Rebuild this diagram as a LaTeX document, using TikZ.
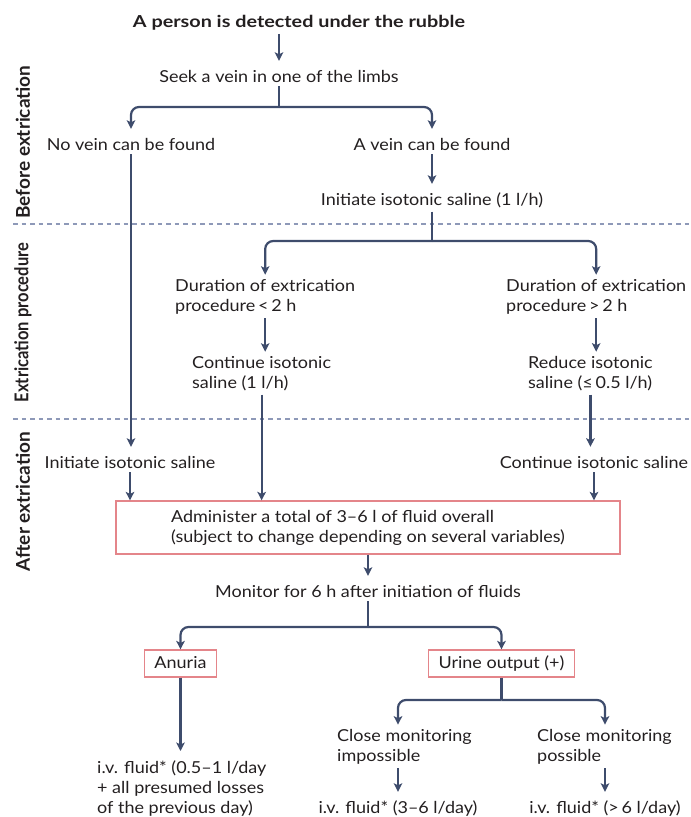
\documentclass[tikz,border=0pt]{standalone}
\usepackage{fontspec}
\setmainfont{Lato}[FakeStretch=1.09]
\newfontfamily\titlefont{Lato}[FakeStretch=1.2]
\newfontfamily\phasefont{Lato}
\usepackage{tikz}
\usetikzlibrary{arrows.meta, positioning}
\definecolor{arrowblue}{HTML}{3E4C6C}
\definecolor{dashgray}{HTML}{8E99B8}
\definecolor{boxred}{HTML}{E4858A}
\definecolor{inkblack}{HTML}{231F20}

\begin{document}
\begin{tikzpicture}[x=1pt, y=-1pt,
    txt/.style={text=inkblack, font=\fontsize{16.5}{20}\selectfont, inner xsep=0pt, inner ysep=4pt, align=left, execute at begin node={\rule{0pt}{17pt}}},
    redbox/.style={draw=boxred, line width=1.2pt, text=inkblack, font=\fontsize{16.5}{20}\selectfont, inner xsep=10pt, inner ysep=0pt, align=left},
    phase/.style={text=inkblack, font=\phasefont\fontsize{19}{22}\selectfont\bfseries, rotate=90},
    phaseline/.style={dashgray, line width=1.5pt, dash pattern=on 4.5pt off 4pt},
    lnk/.style={draw=arrowblue, line width=2.2pt, rounded corners=8pt},
    arr/.style={lnk, -{Stealth[length=8.5pt, width=8.5pt, inset=2pt]}}
]
    \useasboundingbox (0,0) rectangle (691,817);
    % Phase labels and borders
    \node[phase] (before) at (23,142) {Before extrication};
    \node[phase] (during) at (23,322.5) {\scalebox{0.87}[1]{Extrication procedure}};
    \node[phase] (after) at (23,501.5) {After extrication};
    \draw[phaseline] (13,224) -- (691,224);
    \draw[phaseline] (13,419) -- (691,419);

    % Before extrication
    \node[txt, font=\titlefont\fontsize{16.5}{20}\selectfont\bfseries, anchor=base] (detect) at (299,27) {A person is detected under the rubble};
    \node[txt, anchor=base] (seek) at (279,82) {Seek a vein in one of the limbs};
    \node[txt, anchor=base] (novein) at (131,150) {No vein can be found};
    \node[txt, anchor=base] (vein) at (432,150) {A vein can be found};
    \node[txt, anchor=base] (salinestart) at (432,205) {Initiate isotonic saline (1 l/h)};
    \coordinate (seekfork) at (seek.south |- 0,107);
    \draw[arr] (detect.south -| seek.north) -- (seek.north);
    \draw[lnk] (seek.south) -- (seekfork);
    \draw[arr] (seekfork) -| (novein.north);
    \draw[arr] (seekfork) -| (vein.north);
    \draw[arr] (vein.south) -- (salinestart.north);

    % Extrication procedure
    \node[txt, anchor=base west] (durless) at (175,311) {Duration of extrication\\procedure\,<\,2 h};
    \node[txt, anchor=base west] (durmore) at (506,311) {Duration of extrication\\procedure\,>\,2 h};
    \node[txt, anchor=base west] (contsal) at (192,388) {Continue isotonic\\saline (1 l/h)};
    \node[txt, anchor=base west] (redsal) at (528,388) {Reduce isotonic\\saline (≤\,0.5 l/h)};
    \coordinate (salinefork) at (salinestart.south |- 0,241);
    \draw[lnk] (salinestart.south) -- (salinefork);
    \draw[arr] (salinefork) -| (durless.north);
    \draw[arr] (salinefork) -| (durmore.north);
    \draw[arr] (durless.south) -- (durless.south |- contsal.north);
    \draw[arr] (durmore.south) -- (durmore.south |- redsal.north);

    % After extrication
    \node[txt, anchor=base] (salinelate) at (130,468) {Initiate isotonic saline};
    \node[txt, anchor=base] (salinekeep) at (594,468) {Continue isotonic saline};
    \node[redbox, minimum width=504pt, minimum height=53pt] (admin) at (368,527.5) {Administer a total of 3–6 l of fluid overall\\(subject to change depending on several variables)};
    \node[txt, anchor=base] (monitor) at (368,597) {Monitor for 6 h after initiation of fluids};
    \draw[arr] (novein.south) -- (novein.south |- salinelate.north);
    \draw[arr] (salinelate.south) -- (salinelate.south |- admin.north);
    \draw[arr] (contsal.south) -- (contsal.south |- admin.north);
    \draw[arr] (redsal.south) -- (redsal.south |- salinekeep.north);
    \draw[arr] (salinekeep.south) -- (salinekeep.south |- admin.north);
    \draw[arr] (admin.south) -- (monitor.north);

    % Monitoring outcome
    \node[redbox, minimum height=27pt, text height=12pt, text depth=3pt] (anuria) at (180.5,663.5) {Anuria};
    \node[redbox, minimum height=27pt, text height=12pt, text depth=3pt] (urine) at (501.5,663.5) {Urine output (+)};
    \node[txt, anchor=base west] (fluidlow) at (97,813) {i.v. fluid* (0.5–1 l/day\\+ all presumed losses\\of the previous day)};
    \node[txt, anchor=base west] (closeno) at (337,761) {Close monitoring\\impossible};
    \node[txt, anchor=base west] (closeyes) at (537,761) {Close monitoring\\possible};
    \node[txt, anchor=base] (fluidmid) at (398,813) {i.v. fluid* (3–6 l/day)};
    \node[txt, anchor=base] (fluidhigh) at (605,813) {i.v. fluid* (>\,6 l/day)};
    \coordinate (monitorfork) at (monitor.south |- 0,627);
    \coordinate (urinefork) at (urine.south |- 0,700);
    \draw[lnk] (monitor.south) -- (monitorfork);
    \draw[arr] (monitorfork) -| (anuria.north);
    \draw[arr] (monitorfork) -| (urine.north);
    \draw[arr, shorten >=5pt] (anuria.south) -- (anuria.south |- fluidlow.north);
    \draw[lnk] (urine.south) -- (urinefork);
    \draw[arr] (urinefork) -| (fluidmid.north |- closeno.north);
    \draw[arr] (urinefork) -| (fluidhigh.north |- closeyes.north);
    \draw[arr] (closeno.south -| fluidmid.north) -- (fluidmid.north);
    \draw[arr] (closeyes.south -| fluidhigh.north) -- (fluidhigh.north);
\end{tikzpicture}
\end{document}
